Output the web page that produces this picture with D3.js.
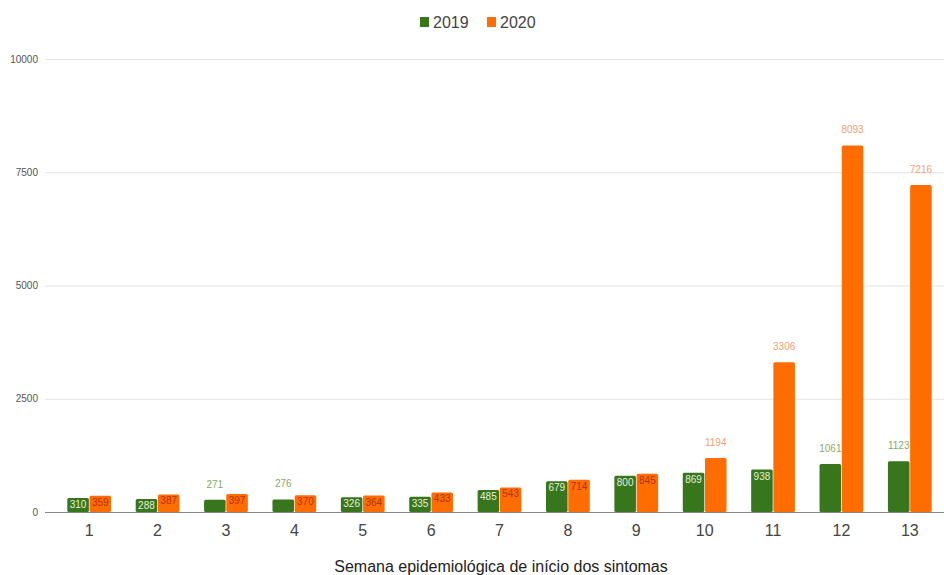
<!DOCTYPE html>
<html><head><meta charset="utf-8">
<script src="https://cdn.jsdelivr.net/npm/d3@7"></script>
<style>body{margin:0;background:#fff}svg{display:block;font-family:Arial,"Liberation Sans",sans-serif}</style>
</head><body><svg id="c" width="944" height="575"></svg>
<script>
const weeks = ["1","2","3","4","5","6","7","8","9","10","11","12","13"];
const values2019 = [310,288,271,276,326,335,485,679,800,869,938,1061,1123];
const values2020 = [359,387,397,370,364,433,543,714,845,1194,3306,8093,7216];
const labelOutside2019 = [false,false,true,true,false,false,false,false,false,false,false,true,true];
const labelOutside2020 = [false,false,false,false,false,false,false,false,false,true,true,true,true];
const yTicks = [0,2500,5000,7500,10000];
const seriesNames = ["2019","2020"];
const xTitle = "Semana epidemiológica de início dos sintomas";

(function(){
const colors = {"2019":"#38761d","2020":"#ff6d01"};
const insideText = {"2019":"#e4f0dc","2020":"#b3300a"};
const outsideText = {"2019":"#7fae68","2020":"#f0a070"};

const svg = d3.select("#c");
const pLeft = 55, pRight = 944, pTop = 59, pBottom = 512;

const x = d3.scaleBand().domain(weeks).range([pLeft,pRight]).paddingInner(0.36).paddingOuter(0.18);
const xs = d3.scaleBand().domain(seriesNames).range([0,x.bandwidth()]).paddingInner(0.03);
const y = d3.scaleLinear().domain([0,10000]).range([pBottom,pTop]);

svg.append("g").selectAll("line").data(yTicks.filter(d=>d>0)).join("line")
  .attr("x1",45).attr("x2",944).attr("y1",d=>y(d)+0.5).attr("y2",d=>y(d)+0.5)
  .attr("stroke","#e3e3e3").attr("stroke-width",1);

svg.append("g").selectAll("text").data(yTicks).join("text")
  .attr("x",38).attr("y",d=>y(d)).attr("dy","0.35em").attr("text-anchor","end")
  .attr("font-size",10).attr("fill","#555").text(d=>d);

const data = weeks.map((w,i)=>({w,vals:[
  {s:"2019",v:values2019[i],out:labelOutside2019[i]},
  {s:"2020",v:values2020[i],out:labelOutside2020[i]}]}));

const g = svg.append("g").selectAll("g").data(data).join("g")
  .attr("transform",d=>`translate(${x(d.w)},0)`);

g.selectAll("rect").data(d=>d.vals).join("rect")
  .attr("x",d=>xs(d.s)).attr("width",xs.bandwidth())
  .attr("y",d=>y(d.v)).attr("height",d=>pBottom-y(d.v))
  .attr("rx",1.5).attr("fill",d=>colors[d.s]);

g.selectAll("text").data(d=>d.vals).join("text")
  .attr("x",d=>xs(d.s)+xs.bandwidth()/2)
  .attr("y",d=>d.out ? y(d.v)-12 : y(d.v)+10)
  .attr("text-anchor","middle").attr("font-size",10)
  .attr("fill",d=>d.out ? outsideText[d.s] : insideText[d.s])
  .text(d=>d.v);

svg.append("line").attr("x1",45).attr("x2",944).attr("y1",pBottom+0.5).attr("y2",pBottom+0.5)
  .attr("stroke","#888").attr("stroke-width",1);

svg.append("g").selectAll("text").data(weeks).join("text")
  .attr("x",d=>x(d)+x.bandwidth()/2).attr("y",536).attr("text-anchor","middle")
  .attr("font-size",16).attr("fill","#444").text(d=>d);

svg.append("text").attr("x",501).attr("y",572).attr("text-anchor","middle")
  .attr("font-size",16).attr("fill","#222").text(xTitle);

const leg = svg.append("g");
const legItems = [{s:"2019",x:420},{s:"2020",x:487}];
leg.selectAll("rect").data(legItems).join("rect")
  .attr("x",d=>d.x).attr("y",17).attr("width",9).attr("height",10).attr("fill",d=>colors[d.s]);
leg.selectAll("text").data(legItems).join("text")
  .attr("x",d=>d.x+13).attr("y",28).attr("font-size",16).attr("fill","#444").text(d=>d.s);
})();
</script></body></html>
